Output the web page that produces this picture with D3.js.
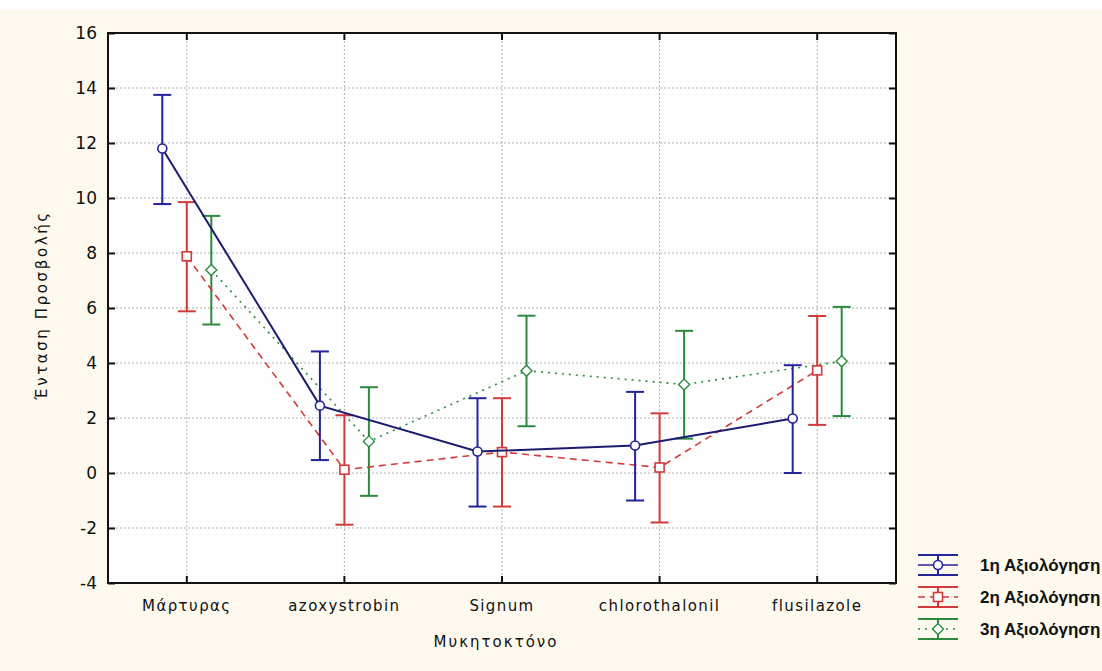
<!DOCTYPE html>
<html>
<head>
<meta charset="utf-8">
<script src="https://cdn.jsdelivr.net/npm/d3@7"></script>
<style>
  html, body { margin: 0; padding: 0; background: #fdf9ef; }
  svg { display: block; }
  text { font-family: "DejaVu Sans", sans-serif; fill: #111; }
</style>
</head>
<body>
<svg id="chart" width="1102" height="671"></svg>
<script>
// ---------- data ----------
const categories = ["Μάρτυρας", "azoxystrobin", "Signum", "chlorothalonil", "flusilazole"];
const seriesNames = ["1η Αξιολόγηση", "2η Αξιολόγηση", "3η Αξιολόγηση"];
const mean1 = [11.8, 2.45, 0.78, 1.0, 1.98];
const low1  = [9.78, 0.47, -1.22, -1.0, 0.0];
const high1 = [13.75, 4.42, 2.72, 2.95, 3.92];
const mean2 = [7.88, 0.12, 0.76, 0.2, 3.73];
const low2  = [5.88, -1.88, -1.22, -1.8, 1.75];
const high2 = [9.85, 2.1, 2.72, 2.17, 5.71];
const mean3 = [7.38, 1.15, 3.72, 3.22, 4.06];
const low3  = [5.4, -0.83, 1.7, 1.25, 2.07];
const high3 = [9.35, 3.12, 5.72, 5.17, 6.04];
const yTicks = [-4, -2, 0, 2, 4, 6, 8, 10, 12, 14, 16];
const yTitle = "Ένταση Προσβολής";
const xTitle = "Μυκητοκτόνο";

// ---------- layout ----------
const L = 108, R = 896, T = 33, B = 583;
const colors = ["#23239a", "#d23a3a", "#2b8a3c"];
const dashes = [null, "7,5", "2,5"];
const markers = ["circle", "square", "diamond"];

const svg = d3.select("#chart");
svg.append("rect").attr("x", 0).attr("y", 0).attr("width", 1102).attr("height", 671).attr("fill", "#fdf9ef");
svg.append("rect").attr("x", 0).attr("y", 0).attr("width", 1102).attr("height", 10).attr("fill", "#ffffff");
svg.append("rect").attr("x", L).attr("y", T).attr("width", R - L).attr("height", B - T).attr("fill", "#fefeff");

const x = d3.scaleBand().domain(categories).range([L, R]).paddingInner(0).paddingOuter(0);
const off = d3.scalePoint().domain(seriesNames).range([-24.5, 24.5]);
const y = d3.scaleLinear().domain([-4, 16]).range([B, T]);

// grid
const grid = svg.append("g");
grid.selectAll("line.h").data(yTicks).join("line")
  .attr("x1", L).attr("x2", R).attr("y1", d => y(d)).attr("y2", d => y(d))
  .attr("stroke", "#b0b0b0").attr("stroke-width", 1).attr("stroke-dasharray", "2,2");
grid.selectAll("line.v").data(categories).join("line")
  .attr("x1", d => x(d) + x.bandwidth() / 2).attr("x2", d => x(d) + x.bandwidth() / 2)
  .attr("y1", T).attr("y2", B)
  .attr("stroke", "#b0b0b0").attr("stroke-width", 1).attr("stroke-dasharray", "2,2");

// axes
const yAxis = d3.axisLeft(y).tickValues(yTicks).tickSize(-7).tickPadding(11).tickFormat(d => String(d));
const gy = svg.append("g").attr("transform", `translate(${L},0)`).call(yAxis);
gy.select(".domain").remove();
gy.selectAll("line").attr("stroke", "#111").attr("stroke-width", 2);
gy.selectAll("text").attr("font-size", 17).attr("fill", "#111").style("font-family", "DejaVu Sans");

const yAxisR = d3.axisRight(y).tickValues(yTicks).tickSize(-7).tickFormat("");
const gyr = svg.append("g").attr("transform", `translate(${R},0)`).call(yAxisR);
gyr.select(".domain").remove();
gyr.selectAll("line").attr("stroke", "#111").attr("stroke-width", 2);

const xAxis = d3.axisBottom(x).tickSize(-7).tickPadding(17);
const gx = svg.append("g").attr("transform", `translate(0,${B})`).call(xAxis);
gx.select(".domain").remove();
gx.selectAll("line").attr("stroke", "#111").attr("stroke-width", 2);
gx.selectAll("text").attr("font-size", 15).attr("fill", "#111").attr("letter-spacing", 1.4)
  .style("font-family", "DejaVu Sans");

const xAxisT = d3.axisTop(x).tickSize(-7).tickFormat("");
const gxt = svg.append("g").attr("transform", `translate(0,${T})`).call(xAxisT);
gxt.select(".domain").remove();
gxt.selectAll("line").attr("stroke", "#111").attr("stroke-width", 2);

// frame
svg.append("rect").attr("x", L).attr("y", T).attr("width", R - L).attr("height", B - T)
  .attr("fill", "none").attr("stroke", "#111").attr("stroke-width", 2);

// titles
svg.append("text").attr("x", 496).attr("y", 647).attr("text-anchor", "middle")
  .attr("font-size", 15).attr("letter-spacing", 2).text(xTitle);
svg.append("text").attr("transform", "translate(47,305) rotate(-90)").attr("text-anchor", "middle")
  .attr("font-size", 15).attr("letter-spacing", 2.6).text(yTitle);

// series
const series = [
  {name: seriesNames[0], mean: mean1, low: low1, high: high1},
  {name: seriesNames[1], mean: mean2, low: low2, high: high2},
  {name: seriesNames[2], mean: mean3, low: low3, high: high3}
];

function drawMarker(g, type, cx, cy, color) {
  if (type === "circle") {
    g.append("circle").attr("cx", cx).attr("cy", cy).attr("r", 4.5)
      .attr("fill", "#fff").attr("stroke", color).attr("stroke-width", 1.6);
  } else if (type === "square") {
    g.append("rect").attr("x", cx - 4.5).attr("y", cy - 4.5).attr("width", 9).attr("height", 9)
      .attr("fill", "#fff").attr("stroke", color).attr("stroke-width", 1.6);
  } else {
    g.append("path").attr("d", `M${cx},${cy - 5.5}L${cx + 5.5},${cy}L${cx},${cy + 5.5}L${cx - 5.5},${cy}Z`)
      .attr("fill", "#fff").attr("stroke", color).attr("stroke-width", 1.4);
  }
}

const order = [2, 1, 0];
order.forEach(i => {
  const s = series[i];
  const g = svg.append("g");
  const px = (c) => x(c) + x.bandwidth() / 2 + off(s.name);
  const line = d3.line().x((d, j) => px(categories[j])).y(d => y(d));
  g.append("path").datum(s.mean).attr("d", line).attr("fill", "none")
    .attr("stroke", i === 0 ? "#1c1c6e" : colors[i]).attr("stroke-width", i === 0 ? 2 : 1.6)
    .attr("stroke-dasharray", dashes[i]);
  categories.forEach((c, j) => {
    const cx = px(c);
    g.append("line").attr("x1", cx).attr("x2", cx).attr("y1", y(s.low[j])).attr("y2", y(s.high[j]))
      .attr("stroke", colors[i]).attr("stroke-width", 2);
    [s.low[j], s.high[j]].forEach(v => {
      g.append("line").attr("x1", cx - 9).attr("x2", cx + 9).attr("y1", y(v)).attr("y2", y(v))
        .attr("stroke", colors[i]).attr("stroke-width", 2);
    });
  });
  categories.forEach((c, j) => drawMarker(g, markers[i], px(c), y(s.mean[j]), colors[i]));
});

// legend
const legY = [565, 597, 629];
const lg = svg.append("g");
series.forEach((s, i) => {
  const yc = legY[i];
  const x0 = 918, x1 = 958, cx = 938;
  lg.append("line").attr("x1", cx).attr("x2", cx).attr("y1", yc - 10).attr("y2", yc + 10)
    .attr("stroke", colors[i]).attr("stroke-width", 2);
  [yc - 10, yc + 10].forEach(v => lg.append("line").attr("x1", x0).attr("x2", x1).attr("y1", v).attr("y2", v)
    .attr("stroke", colors[i]).attr("stroke-width", 2));
  lg.append("line").attr("x1", x0).attr("x2", x1).attr("y1", yc).attr("y2", yc)
    .attr("stroke", colors[i]).attr("stroke-width", 1.6).attr("stroke-dasharray", dashes[i]);
  drawMarker(lg, markers[i], cx, yc, colors[i]);
  lg.append("text").attr("x", 980).attr("y", yc + 6).attr("font-size", 17).attr("font-weight", "bold")
    .style("font-family", "Liberation Sans, Arial, sans-serif").attr("fill", "#2a2a2a").text(s.name);
});
</script>
</body>
</html>
